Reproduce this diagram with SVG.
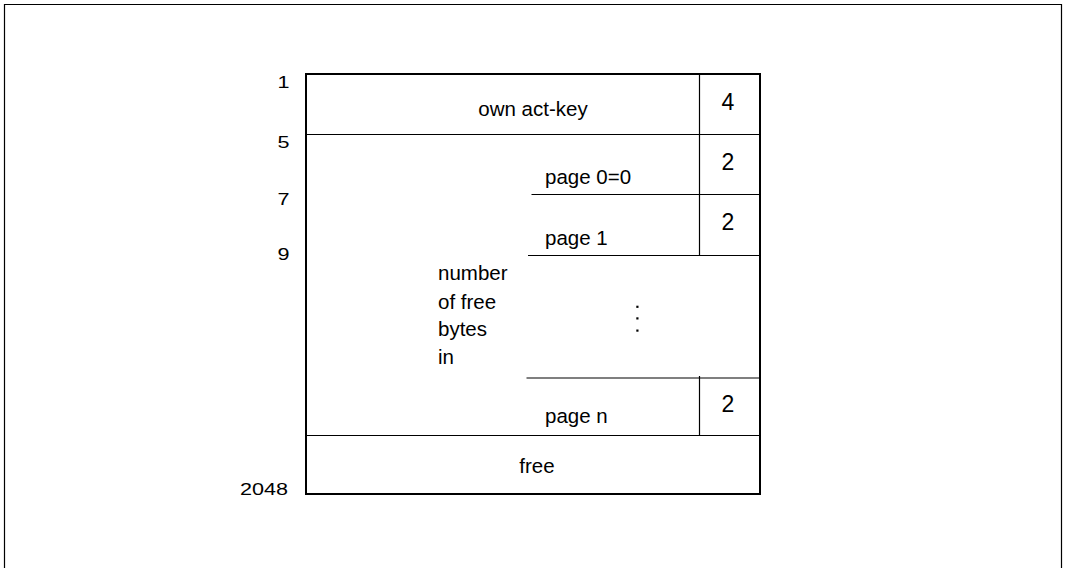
<svg xmlns="http://www.w3.org/2000/svg" width="1066" height="568" viewBox="0 0 1066 568">
<style>
text{font-family:"Liberation Sans",Arial,sans-serif;fill:#000}
.lbl{font-size:17px;text-anchor:end}
.txt{font-size:20.5px}
.num{font-size:23px;text-anchor:middle}
.thin{stroke:#000;stroke-width:1.2;fill:none}
.thick{stroke:#000;stroke-width:2;fill:none}
</style>
<rect width="1066" height="568" fill="#fff"/>
<g id="frame"><path class="thin" d="M4.5,568 V4.5 H1061.5 V568"/></g>
<g id="offsets">
<text class="lbl" transform="translate(289.5,88) scale(1.27,1)">1</text>
<text class="lbl" transform="translate(289.5,148) scale(1.27,1)">5</text>
<text class="lbl" transform="translate(289.5,205) scale(1.27,1)">7</text>
<text class="lbl" transform="translate(289.5,260) scale(1.27,1)">9</text>
<text class="lbl" transform="translate(288,495) scale(1.27,1)">2048</text>
</g>
<g id="connectors">
<rect class="thick" x="306" y="74" width="454" height="420"/>
<line class="thin" x1="306" y1="134.5" x2="760" y2="134.5"/>
<line class="thin" x1="531.5" y1="194.5" x2="760" y2="194.5"/>
<line class="thin" x1="528" y1="255.5" x2="760" y2="255.5"/>
<line class="thin" x1="526.5" y1="378" x2="760" y2="378"/>
<line class="thin" x1="306" y1="435.5" x2="760" y2="435.5"/>
<line class="thin" x1="699.5" y1="74" x2="699.5" y2="255.5"/>
<line class="thin" x1="699.5" y1="376" x2="699.5" y2="436"/>
</g>
<g id="act-key">
<text class="txt" x="533" y="116" text-anchor="middle">own act-key</text>
<text class="num" x="728" y="110">4</text>
</g>
<g id="page0">
<text class="txt" x="545" y="184">page 0=0</text>
<text class="num" x="728" y="170">2</text>
</g>
<g id="page1">
<text class="txt" x="545" y="245">page 1</text>
<text class="num" x="728" y="230">2</text>
</g>
<g id="dots">
<rect x="636.3" y="305.7" width="2.2" height="2.2"/>
<rect x="636.3" y="317.3" width="2.2" height="2.2"/>
<rect x="636.3" y="329.5" width="2.2" height="2.2"/>
</g>
<g id="number-of-free-bytes">
<text class="txt" x="438" y="280">number</text>
<text class="txt" x="438" y="308.5">of free</text>
<text class="txt" x="438" y="336">bytes</text>
<text class="txt" x="438" y="364">in</text>
</g>
<g id="pagen">
<text class="txt" x="545" y="423">page n</text>
<text class="num" x="728" y="411.5">2</text>
</g>
<g id="free">
<text class="txt" x="537" y="473" text-anchor="middle">free</text>
</g>
</svg>
